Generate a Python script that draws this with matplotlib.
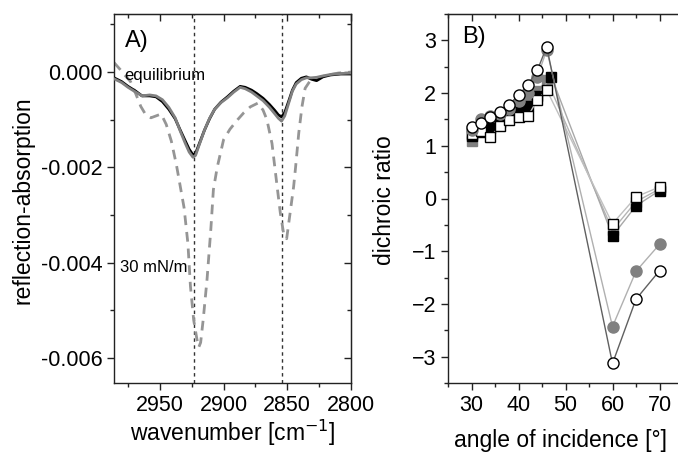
import matplotlib
matplotlib.use("Agg")
import matplotlib.pyplot as plt
from matplotlib.ticker import MultipleLocator, NullFormatter

plt.rcParams['font.family'] = ['Liberation Sans', 'DejaVu Sans']

# ---------------- Panel A data ----------------
wn_eq = [2986, 2980, 2975, 2969, 2964, 2958, 2953, 2948, 2943, 2938, 2934, 2930,
         2927, 2924, 2922, 2919, 2915, 2911, 2907, 2902, 2897, 2892, 2887, 2883,
         2878, 2874, 2869, 2864, 2860, 2857, 2854.5, 2852, 2849, 2846, 2843, 2839,
         2835, 2831, 2827, 2822, 2816, 2808, 2800]
abs_eq_black = [-0.00012, -0.00020, -0.00030, -0.00040, -0.00050, -0.00050, -0.00052,
                -0.00062, -0.00078, -0.00098, -0.00122, -0.00145, -0.00162, -0.00174,
                -0.00171, -0.00150, -0.00122, -0.00098, -0.00078, -0.00063, -0.00052,
                -0.00040, -0.00030, -0.00032, -0.00038, -0.00045, -0.00055, -0.00068,
                -0.00080, -0.00090, -0.00094, -0.00085, -0.00062, -0.00038, -0.00022,
                -0.00013, -0.00010, -0.00015, -0.00018, -0.00010, -0.00006, -0.00004,
                -0.00004]
abs_eq_gray = [-0.00014, -0.00022, -0.00032, -0.00042, -0.00050, -0.00048, -0.00050,
               -0.00058, -0.00074, -0.00096, -0.00124, -0.00150, -0.00168, -0.00179,
               -0.00175, -0.00152, -0.00122, -0.00097, -0.00078, -0.00064, -0.00054,
               -0.00042, -0.00032, -0.00035, -0.00042, -0.00050, -0.00060, -0.00074,
               -0.00087, -0.00097, -0.00103, -0.00092, -0.00066, -0.00040, -0.00025,
               -0.00016, -0.00012, -0.00012, -0.00011, -0.00008, -0.00005, -0.00003,
               -0.00002]

wn_30 = [2986, 2981, 2977, 2973, 2969, 2965, 2961, 2957, 2953, 2949, 2945, 2941,
         2937, 2934, 2931, 2928, 2926, 2923.5, 2921, 2919.5, 2918, 2916, 2913, 2910,
         2908, 2905, 2900, 2895, 2889, 2884, 2879, 2873, 2869, 2866, 2862, 2858,
         2855.5, 2853, 2850.5, 2848, 2845, 2843.5, 2841, 2838.5, 2836, 2832, 2826,
         2818, 2810, 2800]
abs_30 = [0.00020, 0.00005, -0.00008, -0.00020, -0.00045, -0.00072, -0.00090, -0.00096,
          -0.00092, -0.00088, -0.00110, -0.00145, -0.00195, -0.00240, -0.00285, -0.00360,
          -0.00450, -0.00520, -0.00560, -0.00578, -0.00568, -0.00520, -0.00436, -0.00330,
          -0.00247, -0.00200, -0.00142, -0.00120, -0.00100, -0.00085, -0.00073, -0.00065,
          -0.00080, -0.00100, -0.00150, -0.00240, -0.00295, -0.00337, -0.00350, -0.00300,
          -0.00240, -0.00200, -0.00128, -0.00073, -0.00034, -0.00018, -0.00012, -0.00006,
          -0.00002, 0.00000]

band_positions = [2923, 2854.5]

# ---------------- Panel B data ----------------
angles_circ = [30, 32, 34, 36, 38, 40, 42, 44, 46, 60, 65, 70]
open_circles = [1.36, 1.44, 1.54, 1.65, 1.78, 1.96, 2.16, 2.43, 2.88, -3.13, -1.91, -1.37]
gray_circles = [1.30, 1.50, 1.56, 1.60, 1.70, 1.85, 2.00, 2.30, 2.82, -2.43, -1.38, -0.87]

angles_sq = [30, 32, 34, 36, 38, 40, 42, 44, 46, 60, 65, 70]
angles_sq_black = [30, 32, 34, 36, 38, 40, 42, 44, 47, 60, 65, 70]
black_squares = [1.18, 1.27, 1.33, 1.45, 1.62, 1.68, 1.75, 1.95, 2.31, -0.71, -0.14, 0.15]
gray_squares = [1.10, 1.35, 1.37, 1.50, 1.60, 1.72, 1.87, 2.03, 2.25, -0.60, -0.06, 0.18]
open_squares = [1.23, 1.28, 1.17, 1.37, 1.48, 1.54, 1.56, 1.87, 2.06, -0.48, 0.03, 0.22]

W, H = 678, 455
fig = plt.figure(figsize=(W / 100, H / 100), dpi=100)

def frac(l, t, r, b):
    return [l / W, (H - b) / H, (r - l) / W, (b - t) / H]

tick_fs = 15.5
label_fs = 16.5
spine_col = '#222222'

def inner_ticks(ax, xmaj, xmin, ymaj=None, ymin=None):
    top = ax.secondary_xaxis('top')
    top.xaxis.set_major_locator(MultipleLocator(xmaj))
    top.xaxis.set_minor_locator(MultipleLocator(xmin))
    top.xaxis.set_major_formatter(NullFormatter())
    top.tick_params(which='both', direction='in', color=spine_col, width=1)
    top.tick_params(which='major', length=5)
    top.tick_params(which='minor', length=3)
    top.spines['top'].set_color(spine_col)
    if ymaj is not None:
        right = ax.secondary_yaxis('right')
        right.yaxis.set_major_locator(MultipleLocator(ymaj))
        right.yaxis.set_minor_locator(MultipleLocator(ymin))
        right.yaxis.set_major_formatter(NullFormatter())
        right.tick_params(which='both', direction='in', color=spine_col, width=1)
        right.tick_params(which='major', length=5)
        right.tick_params(which='minor', length=3)
        right.spines['right'].set_color(spine_col)

# ---------- Panel A ----------
axA = fig.add_axes(frac(114, 14, 351, 383))
for xv in band_positions:
    axA.axvline(xv, color='#333333', lw=1.0, ls=(0, (2.5, 2.5)), zorder=1)
axA.plot(wn_30, abs_30, color='#959595', lw=2.0, ls=(0, (3.5, 2.5)), zorder=2)
axA.plot(wn_eq, abs_eq_black, color='black', lw=2.0, zorder=3)
axA.plot(wn_eq, abs_eq_gray, color='#808080', lw=2.0, zorder=4)
axA.set_xlim(2986, 2800)
axA.set_ylim(-0.00653, 0.00122)
axA.xaxis.set_major_locator(MultipleLocator(50))
axA.xaxis.set_minor_locator(MultipleLocator(25))
axA.yaxis.set_major_locator(MultipleLocator(0.002))
axA.yaxis.set_minor_locator(MultipleLocator(0.001))
axA.yaxis.set_major_formatter(matplotlib.ticker.FuncFormatter(
    lambda v, p: f"{v:.3f}".replace("-0.000", "0.000")))
axA.tick_params(axis='both', which='both', labelsize=tick_fs, direction='out',
                color=spine_col, width=1)
axA.tick_params(which='major', length=5)
axA.tick_params(which='minor', length=3)
inner_ticks(axA, 50, 25, 0.002, 0.001)
axA.text(0.046, 0.91, "A)", transform=axA.transAxes, fontsize=17, va='baseline')
axA.text(0.042, 0.821, "equilibrium", transform=axA.transAxes, fontsize=12, va='baseline')
axA.text(0.025, 0.314, "30 mN/m", transform=axA.transAxes, fontsize=12, va='center')
axA.set_xlabel("wavenumber [cm$^{-1}$]", fontsize=label_fs)
axA.set_ylabel("reflection-absorption", fontsize=label_fs)
axA.xaxis.set_label_coords(0.5, -0.135)
axA.xaxis.label.set_va('center')
axA.yaxis.set_label_coords(-0.384, 0.496)
axA.yaxis.label.set_va('center')

# ---------- Panel B ----------
axB = fig.add_axes(frac(448, 14, 683, 383))
ms = 7.5
axB.plot(angles_sq, gray_squares, color='#b5b5b5', lw=1, marker='s', ms=ms,
         mfc='#808080', mec='#808080', zorder=2)
axB.plot(angles_sq_black, black_squares, color='#a8a8a8', lw=1, marker='s', ms=ms,
         mfc='black', mec='black', zorder=3)
axB.plot(angles_sq, open_squares, color='#c0c0c0', lw=1, marker='s', ms=ms,
         mfc='white', mec='black', mew=1, zorder=4)
axB.plot(angles_circ, gray_circles, color='#b0b0b0', lw=1, marker='o', ms=ms + 0.5,
         mfc='#808080', mec='#808080', zorder=5)
axB.plot(angles_circ, open_circles, color='#606060', lw=1, marker='o', ms=ms + 0.5,
         mfc='white', mec='black', mew=1, zorder=6)
axB.set_xlim(25, 75)
axB.set_ylim(-3.5, 3.5)
axB.xaxis.set_major_locator(MultipleLocator(10))
axB.xaxis.set_minor_locator(MultipleLocator(5))
axB.yaxis.set_major_locator(MultipleLocator(1))
axB.yaxis.set_minor_locator(MultipleLocator(0.5))
axB.tick_params(axis='both', which='both', labelsize=tick_fs, direction='out',
                color=spine_col, width=1)
axB.tick_params(which='major', length=5)
axB.tick_params(which='minor', length=3)
inner_ticks(axB, 10, 5)
axB.text(0.06, 0.921, "B)", transform=axB.transAxes, fontsize=17, va='baseline')
axB.set_xlabel("angle of incidence [°]", fontsize=label_fs)
axB.set_ylabel("dichroic ratio", fontsize=label_fs)
axB.xaxis.set_label_coords(0.477, -0.1545)
axB.xaxis.label.set_va('center')
axB.yaxis.set_label_coords(-0.27, 0.496)
axB.yaxis.label.set_va('center')

for ax in (axA, axB):
    for s in ax.spines.values():
        s.set_linewidth(1.0)
        s.set_color(spine_col)

fig.savefig("out.png", dpi=100)
